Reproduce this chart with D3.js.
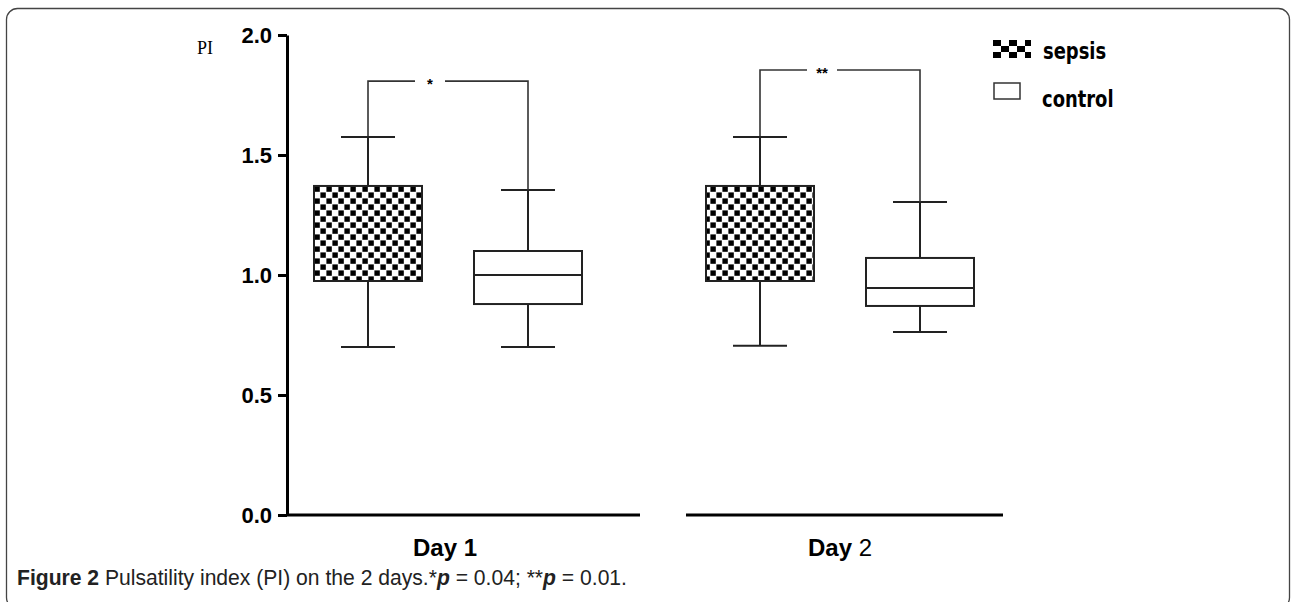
<!DOCTYPE html>
<html>
<head>
<meta charset="utf-8">
<script src="https://cdn.jsdelivr.net/npm/d3@7"></script>
<style>
  body { margin: 0; background: #fff; }
  svg { display: block; }
</style>
</head>
<body>
<svg id="chart" width="1292" height="602"></svg>
<script>
// values
const days = ['Day 1', 'Day 2'];
const groups = ['sepsis', 'control'];
const whiskerLow  = [[0.70, 0.70], [0.705, 0.762]];
const q1          = [[0.975, 0.879], [0.975, 0.871]];
const median      = [[1.20, 1.00], [1.20, 0.946]];
const q3          = [[1.371, 1.10], [1.371, 1.071]];
const whiskerHigh = [[1.575, 1.354], [1.575, 1.304]];
const bracketY = [1.808, 1.854];
const bracketLabel = ['*', '**'];
const yTicks = [0.0, 0.5, 1.0, 1.5, 2.0];

const svg = d3.select('#chart');

// outer frame
svg.append('rect')
  .attr('x', 6.5).attr('y', 8.5)
  .attr('width', 1283).attr('height', 600)
  .attr('rx', 11)
  .attr('fill', 'none')
  .attr('stroke', '#444')
  .attr('stroke-width', 1.3);

const yscale = d3.scaleLinear().domain([0, 2]).range([515, 35]);
const xday = d3.scaleBand().domain(days).range([252, 1036]);
const xgroup = d3.scaleBand().domain(groups).range([36, 356]);
const boxW = xgroup.bandwidth() * 0.675;
const capW = boxW / 2;

// checker patterns
const defs = svg.append('defs');
const pat = defs.append('pattern')
  .attr('id', 'checker')
  .attr('patternUnits', 'userSpaceOnUse')
  .attr('width', 12).attr('height', 12)
  .attr('x', 314).attr('y', 186);
pat.append('rect').attr('width', 12).attr('height', 12).attr('fill', '#fff');
pat.append('rect').attr('x', 0.4).attr('y', 0.4).attr('width', 5.4).attr('height', 5.4).attr('fill', '#000');
pat.append('rect').attr('x', 6.4).attr('y', 6.4).attr('width', 5.4).attr('height', 5.4).attr('fill', '#000');

const patBig = defs.append('pattern')
  .attr('id', 'checkerBig')
  .attr('patternUnits', 'userSpaceOnUse')
  .attr('width', 16).attr('height', 12)
  .attr('x', 993).attr('y', 40);
patBig.append('rect').attr('width', 16).attr('height', 12).attr('fill', '#fff');
patBig.append('rect').attr('x', 0).attr('y', 0).attr('width', 8).attr('height', 6).attr('fill', '#000');
patBig.append('rect').attr('x', 8).attr('y', 6).attr('width', 8).attr('height', 6).attr('fill', '#000');

// y axis
const leftAxis = d3.axisLeft(yscale)
  .tickValues(yTicks)
  .tickFormat(d3.format('.1f'))
  .tickSize(9)
  .tickSizeOuter(0)
  .tickPadding(6);

const yAxisG = svg.append('g')
  .attr('transform', 'translate(287, 0)')
  .call(leftAxis);
yAxisG.select('.domain').attr('stroke', '#000').attr('stroke-width', 3);
yAxisG.selectAll('.tick line').attr('stroke', '#000').attr('stroke-width', 3);
yAxisG.selectAll('.tick text')
  .attr('fill', '#000')
  .style('font-family', 'Liberation Sans, Arial, sans-serif')
  .style('font-weight', 'bold')
  .style('font-size', '22px');

// x axis segments, one per day
svg.append('g')
  .selectAll('line')
  .data(days)
  .enter()
  .append('line')
  .attr('x1', (d, i) => i === 0 ? 287 : xday(d) + 42)
  .attr('x2', (d, i) => i === 0 ? xday(d) + xday.bandwidth() - 4 : xday(d) + xday.bandwidth() - 33)
  .attr('y1', yscale(0))
  .attr('y2', yscale(0))
  .attr('stroke', '#000')
  .attr('stroke-width', 3);

// x labels
const xlab = svg.append('g')
  .selectAll('text')
  .data(days)
  .enter()
  .append('text')
  .attr('x', (d, i) => xday(d) + xday.bandwidth() / 2 - (i === 0 ? 3 : 0))
  .attr('y', 556)
  .attr('text-anchor', 'middle')
  .style('font-family', 'Liberation Sans, Arial, sans-serif')
  .style('font-size', '24px')
  .attr('fill', '#000');
xlab.append('tspan').style('font-weight', 'bold').text((d) => d.split(' ')[0] + ' ');
xlab.append('tspan')
  .style('font-weight', (d, i) => i === 0 ? 'bold' : 'normal')
  .text((d) => d.split(' ')[1]);

// PI label
svg.append('text')
  .attr('x', 197).attr('y', 54)
  .style('font-family', 'Liberation Serif, Times New Roman, serif')
  .style('font-size', '18px')
  .attr('fill', '#000')
  .text('PI');

// boxes
const boxData = [];
days.forEach((day, i) => {
  groups.forEach((g, j) => {
    boxData.push({
      day, group: g,
      lo: whiskerLow[i][j], q1: q1[i][j], med: median[i][j],
      q3: q3[i][j], hi: whiskerHigh[i][j]
    });
  });
});

const cx = (d) => xday(d.day) + xgroup(d.group) + xgroup.bandwidth() / 2;
const stroke = '#222';

const boxes = svg.append('g')
  .selectAll('g')
  .data(boxData)
  .enter()
  .append('g');

boxes.append('line')
  .attr('x1', cx).attr('x2', cx)
  .attr('y1', (d) => yscale(d.hi)).attr('y2', (d) => yscale(d.q3))
  .attr('stroke', stroke).attr('stroke-width', 2);
boxes.append('line')
  .attr('x1', cx).attr('x2', cx)
  .attr('y1', (d) => yscale(d.q1)).attr('y2', (d) => yscale(d.lo))
  .attr('stroke', stroke).attr('stroke-width', 2);
boxes.append('line')
  .attr('x1', (d) => cx(d) - capW / 2).attr('x2', (d) => cx(d) + capW / 2)
  .attr('y1', (d) => yscale(d.hi)).attr('y2', (d) => yscale(d.hi))
  .attr('stroke', stroke).attr('stroke-width', 2);
boxes.append('line')
  .attr('x1', (d) => cx(d) - capW / 2).attr('x2', (d) => cx(d) + capW / 2)
  .attr('y1', (d) => yscale(d.lo)).attr('y2', (d) => yscale(d.lo))
  .attr('stroke', stroke).attr('stroke-width', 2);
boxes.append('rect')
  .attr('x', (d) => cx(d) - boxW / 2)
  .attr('y', (d) => yscale(d.q3))
  .attr('width', boxW)
  .attr('height', (d) => yscale(d.q1) - yscale(d.q3))
  .attr('fill', (d) => d.group === 'sepsis' ? 'url(#checker)' : '#fff')
  .attr('stroke', stroke).attr('stroke-width', 2);
boxes.filter((d) => d.group === 'control')
  .append('line')
  .attr('x1', (d) => cx(d) - boxW / 2).attr('x2', (d) => cx(d) + boxW / 2)
  .attr('y1', (d) => yscale(d.med)).attr('y2', (d) => yscale(d.med))
  .attr('stroke', stroke).attr('stroke-width', 2);

// significance brackets
const brackets = svg.append('g')
  .selectAll('g')
  .data(days)
  .enter()
  .append('g');

const bx = (day, g) => xday(day) + xgroup(g) + xgroup.bandwidth() / 2;
const gapHalf = [15, 15];
brackets.append('path')
  .attr('d', (d, i) => {
    const x1 = bx(d, 'sepsis'), x2 = bx(d, 'control'), mid = (x1 + x2) / 2 - 18;
    const y = yscale(bracketY[i]);
    return `M${x1},${yscale(whiskerHigh[i][0]) - 1}V${y}H${mid - gapHalf[i]}` +
      `M${mid + gapHalf[i]},${y}H${x2}V${yscale(whiskerHigh[i][1])}`;
  })
  .attr('fill', 'none')
  .attr('stroke', '#333')
  .attr('stroke-width', 1.6);
brackets.append('text')
  .attr('x', (d) => (bx(d, 'sepsis') + bx(d, 'control')) / 2 - 18)
  .attr('y', (d, i) => yscale(bracketY[i]) + 8)
  .attr('text-anchor', 'middle')
  .style('font-family', 'Liberation Sans, Arial, sans-serif')
  .style('font-weight', 'bold')
  .style('font-size', '15px')
  .attr('fill', '#000')
  .text((d, i) => bracketLabel[i]);

// legend
const legend = svg.append('g');
legend.append('rect')
  .attr('x', 993).attr('y', 40).attr('width', 38).attr('height', 18)
  .attr('fill', 'url(#checkerBig)');
legend.append('rect')
  .attr('x', 994).attr('y', 83).attr('width', 26).attr('height', 16)
  .attr('fill', '#fff').attr('stroke', '#333').attr('stroke-width', 1.5);
legend.selectAll('text')
  .data(groups)
  .enter()
  .append('text')
  .attr('transform', (d, i) => `translate(${i === 0 ? 1043 : 1042}, ${i === 0 ? 59 : 107}) scale(0.78, 1)`)
  .style('font-family', 'DejaVu Sans, Liberation Sans, sans-serif')
  .style('font-weight', 'bold')
  .style('font-size', '23px')
  .attr('fill', '#000')
  .text((d) => d);

// caption
const cap = svg.append('text')
  .attr('transform', 'translate(17, 585) scale(0.96, 1)')
  .style('font-family', 'Liberation Sans, sans-serif')
  .style('font-size', '22px')
  .attr('fill', '#222');
cap.append('tspan').style('font-weight', 'bold').text('Figure 2');
cap.append('tspan').text(' Pulsatility index (PI) on the 2 days.*');
cap.append('tspan').style('font-style', 'italic').style('font-weight', 'bold').text('p');
cap.append('tspan').text(' = 0.04; **');
cap.append('tspan').style('font-style', 'italic').style('font-weight', 'bold').text('p');
cap.append('tspan').text(' = 0.01.');
</script>
</body>
</html>
